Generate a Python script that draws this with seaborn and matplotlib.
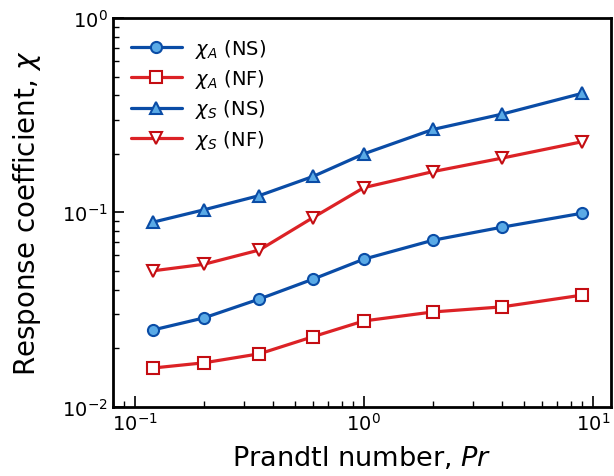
import matplotlib
matplotlib.use("Agg")
import matplotlib.pyplot as plt
import seaborn as sns
import pandas as pd

# Prandtl numbers and response coefficients
prandtl = [0.12, 0.2, 0.35, 0.6, 1.0, 2.0, 4.0, 9.0]
chi_a_ns = [0.0248, 0.0286, 0.0358, 0.0453, 0.0574, 0.0718, 0.0838, 0.099]
chi_a_nf = [0.0158, 0.0168, 0.0187, 0.0229, 0.0276, 0.0307, 0.0326, 0.0375]
chi_s_ns = [0.089, 0.103, 0.122, 0.153, 0.20, 0.267, 0.32, 0.41]
chi_s_nf = [0.050, 0.054, 0.064, 0.094, 0.134, 0.162, 0.19, 0.231]

series_labels = [r"$\chi_A$ (NS)", r"$\chi_A$ (NF)", r"$\chi_S$ (NS)", r"$\chi_S$ (NF)"]

sns.set_style("ticks")
plt.rcParams["font.family"] = ["DejaVu Sans"]
plt.rcParams["mathtext.fontset"] = "dejavusans"
for key in ["text.color", "axes.labelcolor", "xtick.color", "ytick.color"]:
    plt.rcParams[key] = "black"

blue_line = "#0a4ca6"
blue_face = "#5aaae6"
blue_edge = "#0a4ca6"
red_line = "#dc2226"
red_edge = "#c40d12"

styles = [
    dict(color=blue_line, marker="o", mfc=blue_face, mec=blue_edge),
    dict(color=red_line, marker="s", mfc="white", mec=red_edge),
    dict(color=blue_line, marker="^", mfc=blue_face, mec=blue_edge),
    dict(color=red_line, marker="v", mfc="white", mec=red_edge),
]

fig = plt.figure(figsize=(6.14, 4.77), dpi=100)
ax = fig.add_axes([0.1835, 0.1455, 0.8115, 0.8145])

for values, label, st in zip([chi_a_ns, chi_a_nf, chi_s_ns, chi_s_nf], series_labels, styles):
    df = pd.DataFrame({"Pr": prandtl, "chi": values})
    sns.lineplot(data=df, x="Pr", y="chi", ax=ax, color=st["color"], lw=2.3,
                 marker=st["marker"], markersize=8, markerfacecolor=st["mfc"],
                 markeredgecolor=st["mec"], markeredgewidth=1.5, label=label)

ax.set_xscale("log")
ax.set_yscale("log")
ax.set_xlim(0.08, 12)
ax.set_ylim(0.01, 1)

ax.set_xlabel(r"Prandtl number, $Pr$", fontsize=19.5, labelpad=8)
ax.set_ylabel(r"Response coefficient, $\chi$", fontsize=20, labelpad=14)
ax.tick_params(which="major", direction="in", length=8, width=1.2, labelsize=14,
               top=False, right=False, colors="black")
ax.tick_params(which="minor", direction="in", length=4, width=1.0, top=False, right=False)
for sp in ax.spines.values():
    sp.set_linewidth(2.0)
    sp.set_color("black")

ax.legend(loc="upper left", frameon=False, fontsize=14, handlelength=2.6,
          borderaxespad=0.55, labelspacing=0.38, handletextpad=0.7)

fig.savefig("out.png", dpi=100)
